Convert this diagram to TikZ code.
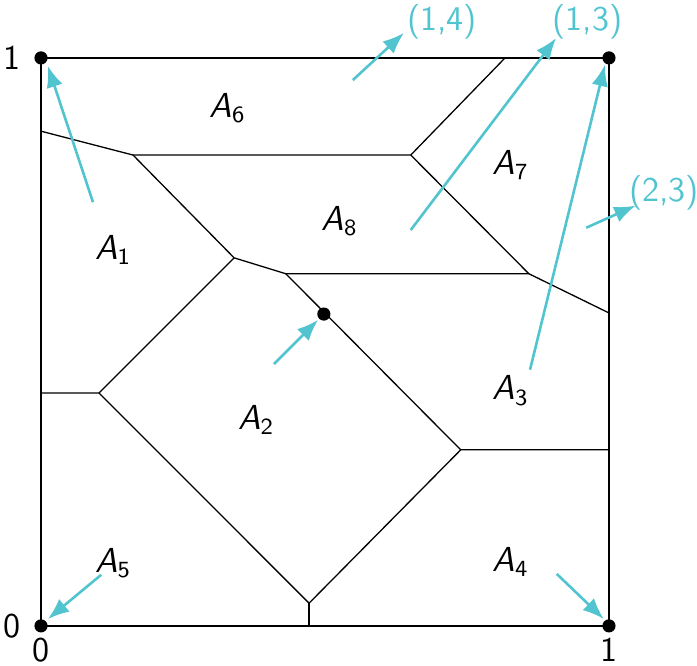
\documentclass[tikz,border=0pt]{standalone}
\usepackage{tikz}
\usetikzlibrary{arrows.meta}
\definecolor{tealc}{RGB}{82,196,208}
\newcommand{\areg}[1]{\textsf{\textit{A}\textsubscript{#1}}}
\tikzset{
  cell/.style={line width=0.45pt},
  pick/.style={tealc, line width=0.9pt, -{Latex[length=2.6mm,width=2mm]}},
  picklabel/.style={tealc, font=\sffamily\large, inner sep=1pt},
  corner/.style={circle, fill, inner sep=0pt, minimum size=1.6mm},
}
\begin{document}
\begin{tikzpicture}[x=6.9cm, y=6.9cm]
  \useasboundingbox (-0.0722,-0.0704) rectangle (1.155,1.102);
  % outer square
  \coordinate (O) at (0,0);
  \coordinate (X) at (1,0);
  \coordinate (Y) at (0,1);
  \coordinate (XY) at (1,1);
  \draw[cell] (O) -- (X) -- (XY) -- (Y) -- cycle;
  % vertices of the partition
  \coordinate (l1) at (0,0.871);
  \coordinate (l2) at (0,0.410);
  \coordinate (t1) at (0.817,1);
  \coordinate (r1) at (1,0.551);
  \coordinate (r2) at (1,0.310);
  \coordinate (b1) at (0.472,0);
  \coordinate (v1) at (0.162,0.829);
  \coordinate (v2) at (0.651,0.829);
  \coordinate (v3) at (0.340,0.648);
  \coordinate (v4) at (0.431,0.620);
  \coordinate (v5) at (0.859,0.620);
  \coordinate (v6) at (0.102,0.410);
  \coordinate (v7) at (0.739,0.310);
  \coordinate (v8) at (0.472,0.040);
  \draw[cell] (l1) -- (v1) -- (v2) -- (t1);
  \draw[cell] (v1) -- (v3) -- (v4) -- (v5) -- (r1);
  \draw[cell] (v2) -- (v5);
  \draw[cell] (v3) -- (v6) -- (l2);
  \draw[cell] (v4) -- (v7) -- (r2);
  \draw[cell] (v6) -- (v8) -- (v7);
  \draw[cell] (v8) -- (b1);
  % corner points and the point on the edge
  \coordinate (P) at (0.498,0.549);
  \foreach \p in {O, X, Y, XY, P} \node[corner] at (\p) {};
  % axis values
  \node[font=\sffamily\large] (y1) at (-0.051,1) {1};
  \node[font=\sffamily\large] (y0) at (-0.051,0) {0};
  \node[font=\sffamily\large] (x0) at (0,-0.042) {0};
  \node[font=\sffamily\large] (x1) at (1,-0.042) {1};
  % regions
  \node[font=\large] (A1) at (0.127,0.662) {\areg{1}};
  \node[font=\large] (A2) at (0.379,0.363) {\areg{2}};
  \node[font=\large] (A3) at (0.827,0.414) {\areg{3}};
  \node[font=\large] (A4) at (0.827,0.113) {\areg{4}};
  \node[font=\large] (A5) at (0.127,0.111) {\areg{5}};
  \node[font=\large] (A6) at (0.329,0.912) {\areg{6}};
  \node[font=\large] (A7) at (0.827,0.812) {\areg{7}};
  \node[font=\large] (A8) at (0.526,0.713) {\areg{8}};
  % where each region goes
  \node[picklabel] (g14) at (0.706,1.063) {(1,4)};
  \node[picklabel] (g13) at (0.962,1.063) {(1,3)};
  \node[picklabel] (g23) at (1.097,0.762) {(2,3)};
  \coordinate (s1) at (0.0915,0.746);
  \coordinate (s6) at (0.549,0.961);
  \coordinate (s8) at (0.651,0.697);
  \coordinate (s3) at (0.861,0.451);
  \coordinate (s7) at (0.960,0.701);
  \coordinate (s2) at (0.410,0.461);
  \coordinate (s5) at (0.106,0.090);
  \coordinate (s4) at (0.908,0.0915);
  \coordinate (e14) at (0.639,1.044);
  \coordinate (e13) at (0.907,1.035);
  \coordinate (e23) at (1.047,0.740);
  \draw[pick] (s1) -- ([shift={(0.012,-0.014)}]Y);
  \draw[pick] (s6) -- (e14);
  \draw[pick] (s8) -- (e13);
  \draw[pick] (s3) -- ([shift={(-0.007,-0.012)}]XY);
  \draw[pick] (s7) -- (e23);
  \draw[pick] (s2) -- ([shift={(-0.01,-0.01)}]P);
  \draw[pick] (s5) -- ([shift={(0.012,0.012)}]O);
  \draw[pick] (s4) -- ([shift={(-0.009,0.012)}]X);
\end{tikzpicture}
\end{document}
